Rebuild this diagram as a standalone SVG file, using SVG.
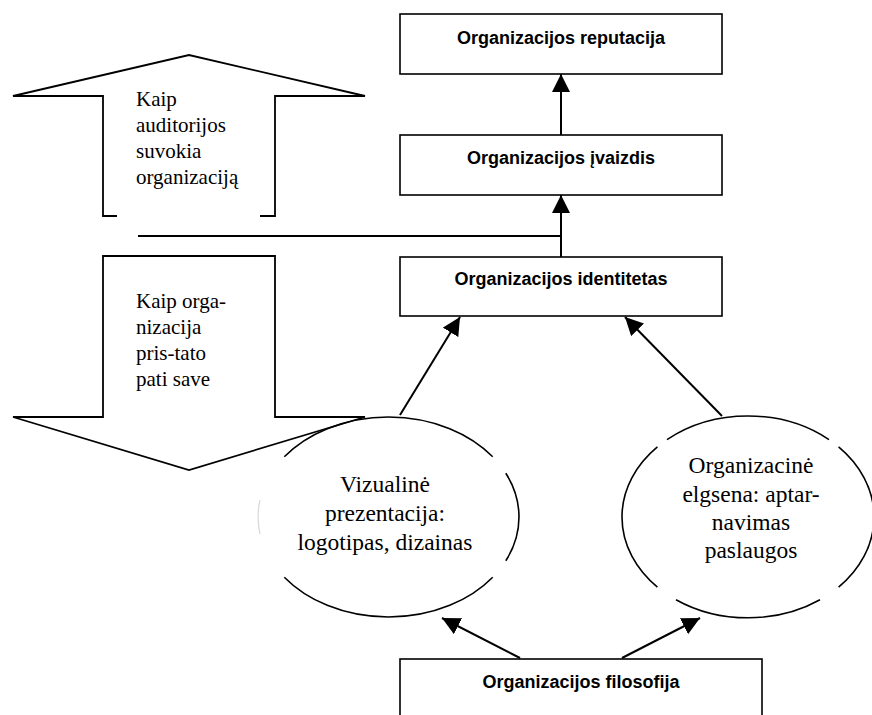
<svg xmlns="http://www.w3.org/2000/svg" width="872" height="715" viewBox="0 0 872 715">
<style>
.box{fill:#fff;stroke:#000;stroke-width:1.6}
.shape{fill:none;stroke:#000;stroke-width:1.8;stroke-linejoin:miter}
.ell{fill:none;stroke:#000;stroke-width:1.6}
.con{fill:none;stroke:#000;stroke-width:2}
.bt{font-family:"Liberation Sans",Arial,sans-serif;font-weight:bold;font-size:18px;text-anchor:middle;fill:#000}
.st{font-family:"Liberation Serif","Times New Roman",serif;font-size:21px;fill:#000}
.et{font-family:"Liberation Serif","Times New Roman",serif;font-size:23.5px;text-anchor:middle;fill:#000}
</style>
<defs>
<marker id="ah" markerUnits="userSpaceOnUse" markerWidth="18" markerHeight="18" viewBox="0 0 16 16" refX="16" refY="8" orient="auto">
<path d="M0,0 L16,8 L0,16 Z" fill="#000"/>
</marker>
</defs>
<rect width="872" height="715" fill="#fff"/>

<g id="arrow-up">
<path class="shape" d="M117,216 L103,216 L103,96 L13,96 L189,55 L365,96 L275,96 L275,216 L260,216"/>
<text class="st" x="136" y="106">Kaip</text>
<text class="st" x="136" y="132">auditorijos</text>
<text class="st" x="136" y="158">suvokia</text>
<text class="st" x="136" y="184">organizaciją</text>
</g>

<g id="arrow-down">
<path class="shape" d="M103,417 L103,256 L275,256 L275,417 L365,417 L189,470 L13,417 Z"/>
<text class="st" x="136" y="308">Kaip orga-</text>
<text class="st" x="136" y="334">nizacija</text>
<text class="st" x="136" y="360">pris-tato</text>
<text class="st" x="136" y="386">pati save</text>
</g>

<g id="reputacija">
<rect class="box" x="400" y="14" width="322" height="60"/>
<text class="bt" x="561" y="44">Organizacijos reputacija</text>
</g>
<g id="ivaizdis">
<rect class="box" x="400" y="135" width="322" height="60"/>
<text class="bt" x="561" y="164">Organizacijos įvaizdis</text>
</g>
<g id="identitetas">
<rect class="box" x="400" y="257" width="322" height="59"/>
<text class="bt" x="561" y="285">Organizacijos identitetas</text>
</g>
<g id="filosofija">
<rect class="box" x="400" y="659" width="362" height="70"/>
<text class="bt" x="581" y="688">Organizacijos filosofija</text>
</g>

<g id="vizualine">
<path class="ell" d="M284.3,456.8 A130.5,100 0 0 1 492.7,456.8"/>
<path class="ell" d="M505.8,473.2 A130.5,100 0 0 1 505.8,560.8"/>
<path class="ell" d="M492.7,577.2 A130.5,100 0 0 1 284.3,577.2"/>
<path d="M260,534 A130.5,100 0 0 1 260,500" fill="none" stroke="#d8d8d8" stroke-width="1.2"/>
<text class="et" x="385" y="492">Vizualinė</text>
<text class="et" x="385" y="521">prezentacija:</text>
<text class="et" x="385" y="550">logotipas, dizainas</text>
</g>

<g id="elgsena">
<path class="ell" d="M667,439.6 A126,101 0 0 1 829,439.6"/>
<path class="ell" d="M838.6,446.8 A126,101 0 0 1 838.6,587.2"/>
<path class="ell" d="M820,599.7 A126,101 0 0 1 676,599.7"/>
<path class="ell" d="M657.4,587.2 A126,101 0 0 1 657.4,446.8"/>
<text class="et" x="751" y="473">Organizacinė</text>
<text class="et" x="751" y="502">elgsena: aptar-</text>
<text class="et" x="751" y="530">navimas</text>
<text class="et" x="751" y="558">paslaugos</text>
</g>

<g id="connectors">
<line class="con" x1="561" y1="135" x2="561" y2="74" marker-end="url(#ah)"/>
<line class="con" x1="561" y1="257" x2="561" y2="195" marker-end="url(#ah)"/>
<line class="con" x1="138" y1="236" x2="561" y2="236"/>
<line class="con" x1="400" y1="415" x2="460" y2="317" marker-end="url(#ah)"/>
<line class="con" x1="722" y1="416" x2="625" y2="317" marker-end="url(#ah)"/>
<line class="con" x1="520" y1="658" x2="442" y2="618" marker-end="url(#ah)"/>
<line class="con" x1="622" y1="658" x2="700" y2="618" marker-end="url(#ah)"/>
</g>
</svg>
